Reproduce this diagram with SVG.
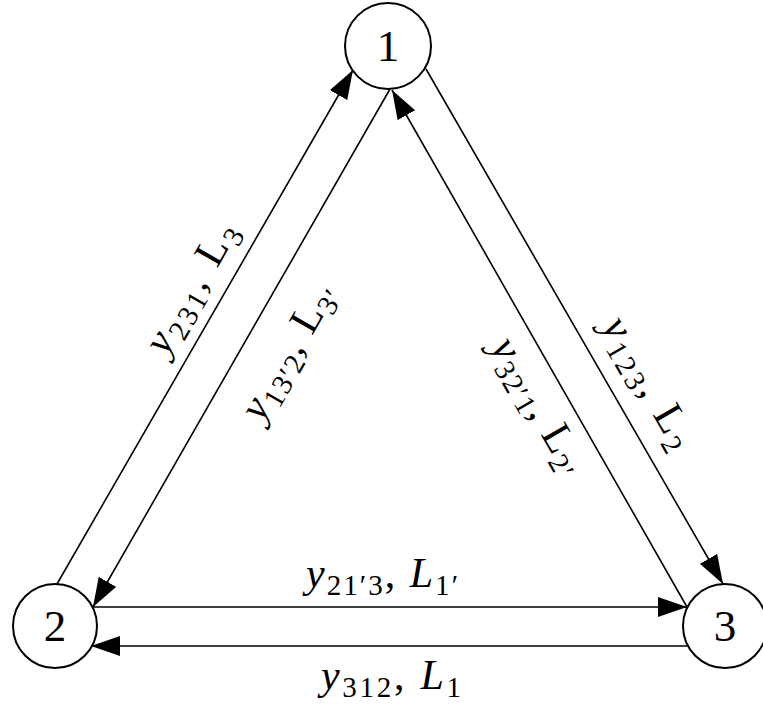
<svg xmlns="http://www.w3.org/2000/svg" width="763" height="706" viewBox="0 0 763 706">
<style>
.node circle{fill:#fff;stroke:#000;stroke-width:2}
.node text{font-family:"Liberation Serif","DejaVu Serif",serif;font-size:45px;text-anchor:middle;fill:#000}
.edge{stroke:#000;stroke-width:1.6;fill:none;marker-end:url(#ah)}
.lbl{font-family:"Liberation Serif","DejaVu Serif",serif;font-size:42px;text-anchor:middle;fill:#000}
.it{font-style:italic}
.sub{font-size:29px}
</style>
<defs>
<marker id="ah" markerUnits="userSpaceOnUse" markerWidth="30" markerHeight="22" refX="29" refY="10" orient="auto">
<path d="M0,0 L29,10 L0,20 z" fill="#000"/>
</marker>
</defs>
<rect width="763" height="706" fill="#fff"/>
<g id="edges">
<path class="edge" d="M57,584 L353,70"/>
<path class="edge" d="M390,89 L93,607"/>
<path class="edge" d="M426,69 L723,584"/>
<path class="edge" d="M687,607 L392,90"/>
<path class="edge" d="M93,607 L687,607"/>
<path class="edge" d="M688,646 L91,646"/>
</g>
<g id="labels">
<text class="lbl" transform="translate(192,288) rotate(-60)" y="12" textLength="145" lengthAdjust="spacing"><tspan class="it">y</tspan><tspan class="sub" dy="8">231</tspan><tspan dy="-8">, L</tspan><tspan class="sub" dy="8">3</tspan></text>
<text class="lbl" transform="translate(289,352) rotate(-60)" y="12" textLength="150" lengthAdjust="spacing"><tspan class="it">y</tspan><tspan class="sub" dy="8">13′2</tspan><tspan dy="-8">, L</tspan><tspan class="sub" dy="8">3′</tspan></text>
<text class="lbl" transform="translate(648,383) rotate(60)" y="12" textLength="145" lengthAdjust="spacing"><tspan class="it">y</tspan><tspan class="sub" dy="8">123</tspan><tspan dy="-8">, L</tspan><tspan class="sub" dy="8">2</tspan></text>
<text class="lbl" transform="translate(538,406) rotate(60)" y="12" textLength="150" lengthAdjust="spacing"><tspan class="it">y</tspan><tspan class="sub" dy="8">32′1</tspan><tspan dy="-8">, L</tspan><tspan class="sub" dy="8">2′</tspan></text>
<text class="lbl" x="382" y="587" textLength="152" lengthAdjust="spacing"><tspan class="it">y</tspan><tspan class="sub" dy="8">21′3</tspan><tspan dy="-8">, </tspan><tspan class="it">L</tspan><tspan class="sub" dy="8">1′</tspan></text>
<text class="lbl" x="391" y="689" textLength="140" lengthAdjust="spacing"><tspan class="it">y</tspan><tspan class="sub" dy="8">312</tspan><tspan dy="-8">, </tspan><tspan class="it">L</tspan><tspan class="sub" dy="8">1</tspan></text>
</g>
<g id="node1" class="node"><circle cx="388" cy="46" r="43"/><text x="388" y="61">1</text></g>
<g id="node2" class="node"><circle cx="55" cy="626" r="42"/><text x="55" y="641">2</text></g>
<g id="node3" class="node"><circle cx="725" cy="626" r="42"/><text x="725" y="641">3</text></g>
</svg>
